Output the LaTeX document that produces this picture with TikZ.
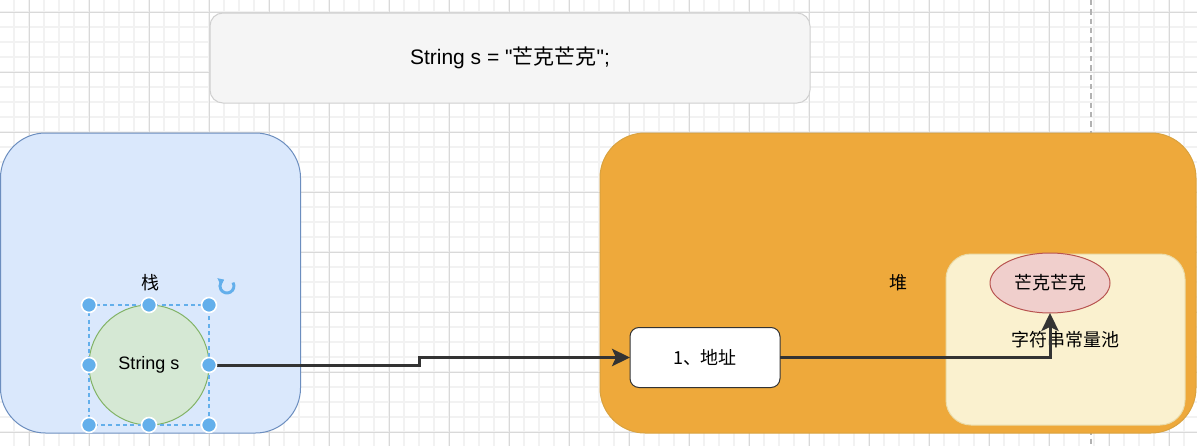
\documentclass[tikz,border=0pt]{standalone}
\usepackage{fontspec}
\setmainfont{Liberation Sans}
\newfontfamily\codefont{Liberation Sans}
\newfontfamily\cjk{Noto Sans CJK SC}
\usetikzlibrary{arrows.meta,shapes.geometric}
\definecolor{codefill}{HTML}{F5F5F5}
\definecolor{codeline}{HTML}{D0D0D0}
\definecolor{stackfill}{HTML}{DAE8FC}
\definecolor{stackline}{HTML}{6C8EBF}
\definecolor{heapfill}{HTML}{EEA93B}
\definecolor{heapline}{HTML}{D9A23F}
\definecolor{poolfill}{HTML}{FAF1CF}
\definecolor{poolline}{HTML}{EADCAA}
\definecolor{varfill}{HTML}{D5E8D4}
\definecolor{varline}{HTML}{82B366}
\definecolor{strfill}{HTML}{F0CFCC}
\definecolor{strline}{HTML}{B85450}
\definecolor{linkgray}{HTML}{333333}
\definecolor{handleblue}{HTML}{63AFEB}
\tikzset{
	txt/.style={font=\fontsize{13.5pt}{16pt}\selectfont},
	area/.style={draw, line width=0.75pt, inner sep=0pt, outer sep=0pt, txt},
	link/.style={draw=linkgray, line width=2.25pt, -{Stealth[length=13.5pt, width=13pt, inset=3pt]}},
	handle/.style={fill=handleblue, draw=white, line width=1.2pt},
}

\begin{document}
\begin{tikzpicture}[x=0.75pt, y=-0.75pt]
			%%%%% START %%%%%
			
			\fill[white] (0, 0) rectangle (1197, 446);
			\useasboundingbox (0, 0) rectangle (1197, 446);
			
			% grid
			\foreach \gx in {-1,14,...,1197} \draw[black!5, line width=1.1pt] (\gx, 0) -- (\gx, 446);
			\foreach \gy in {-3,12,...,446} \draw[black!5, line width=1.1pt] (0, \gy) -- (1197, \gy);
			\foreach \gx in {29,89,...,1197} \draw[black!15, line width=0.75pt] (\gx, 0) -- (\gx, 446);
			\foreach \gy in {12,72,...,446} \draw[black!15, line width=0.75pt] (0, \gy) -- (1197, \gy);
			\draw[black!30, line width=0.9pt, dash pattern=on 4pt off 3pt] (1091, 0) -- (1091, 446);
			
			\node[area, draw=codeline, fill=codefill, rounded corners=9.75pt, minimum width=450pt, minimum height=67.5pt, font=\fontsize{15.75pt}{18pt}\selectfont\codefont] (code) at (510, 58) {String s = "{\cjk 芒克芒克}";};
			
			\node[area, draw=stackline, fill=stackfill, rounded corners=33.75pt, minimum width=225pt, minimum height=225pt] (stack) at (150.5, 283) {\cjk 栈};
			\node[area, draw=heapline, fill=heapfill, rounded corners=33.75pt, minimum width=447pt, minimum height=225pt] (heap) at (898, 283) {\cjk 堆};
			\node[area, draw=poolline, fill=poolfill, rounded corners=18.75pt, minimum width=179.25pt, minimum height=128.25pt] (pool) at (1065.5, 339.5) {\cjk 字符串常量池};
			
			\node[area, circle, draw=varline, fill=varfill, minimum size=90pt] (var) at (149, 365) {String s};
			\node[area, draw=linkgray, fill=white, rounded corners=6.75pt, minimum width=112.5pt, minimum height=45pt] (addr) at (705, 357.5) {\cjk 1、地址};
			\node[area, ellipse, draw=strline, fill=strfill, minimum width=90pt, minimum height=45pt] (str) at (1050, 283) {\cjk 芒克芒克};
			
			\draw[link] (var.east) -- ++(210, 0) |- (addr.west);
			\draw[link] (addr.east) -| (str.south);
			
			% selection
			\draw[handleblue, line width=0.9pt, dash pattern=on 3pt off 2.5pt] (89, 305) rectangle (209, 425);
			\filldraw[handle] (89, 305) circle (7.5);
			\filldraw[handle] (149, 305) circle (7.5);
			\filldraw[handle] (209, 305) circle (7.5);
			\filldraw[handle] (89, 365) circle (7.5);
			\filldraw[handle] (209, 365) circle (7.5);
			\filldraw[handle] (89, 425) circle (7.5);
			\filldraw[handle] (149, 425) circle (7.5);
			\filldraw[handle] (209, 425) circle (7.5);
			\draw[handleblue, line width=2.2pt, -{Triangle[length=4pt, width=6pt]}] (233, 282.5) arc[start angle=-30, end angle=245, radius=7];
			
			%%%%% END %%%%%
\end{tikzpicture}
\end{document}
